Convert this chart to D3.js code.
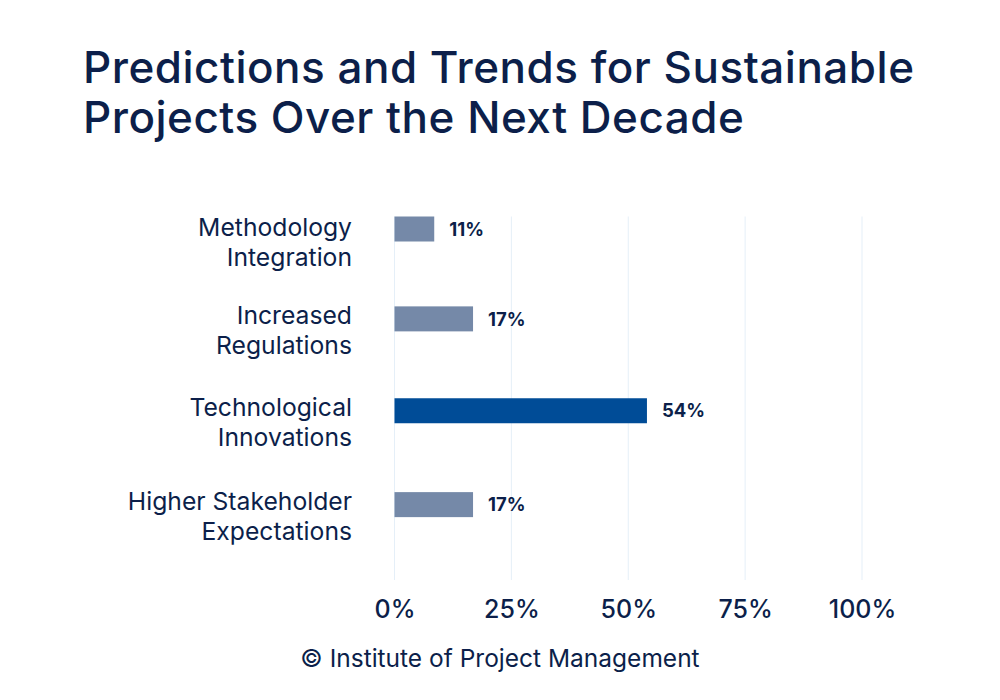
<!DOCTYPE html>
<html>
<head>
<meta charset="utf-8">
<script src="https://cdn.jsdelivr.net/npm/d3@7"></script>
<style>
  body { margin: 0; background: #fff; }
  svg { display: block; font-family: Inter, "Noto Sans", sans-serif; }
</style>
</head>
<body>
<div id="chart"></div>
<script>
// Chart data
const categories = [
    ["Methodology", "Integration"],
    ["Increased", "Regulations"],
    ["Technological", "Innovations"],
    ["Higher Stakeholder", "Expectations"]
];
const values = [8.5, 16.8, 54, 16.8];          // bar lengths as drawn
const valueLabels = ["11%", "17%", "54%", "17%"];
const highlight = [false, false, true, false];
const xTicks = [0, 25, 50, 75, 100];
const titleLines = ["Predictions and Trends for Sustainable", "Projects Over the Next Decade"];
const footer = "\u00A9 Institute of Project Management";

const W = 1000, H = 700;
const navy = "#0c1f4a";

const svg = d3.select("#chart").append("svg")
    .attr("width", W).attr("height", H);

// Title
svg.append("g").selectAll("text")
    .data(titleLines)
    .join("text")
    .attr("x", 83)
    .attr("y", (d, i) => 83 + i * 50)
    .attr("fill", navy)
    .attr("font-size", 44)
    .attr("font-weight", 500)
    .attr("letter-spacing", "0.5")
    .text(d => d);

const x = d3.scaleLinear().domain([0, 100]).range([394.5, 862]);
const y = d3.scaleBand().domain(d3.range(categories.length)).range([216.5, 580]);
const barH = 25;
const nudge = [0, -1, 0, 3];

// gridlines
svg.append("g").selectAll("line")
    .data(xTicks)
    .join("line")
    .attr("x1", d => x(d)).attr("x2", d => x(d))
    .attr("y1", 216.5).attr("y2", 580)
    .attr("stroke", "#e5eff8")
    .attr("stroke-width", 1);

// bars
svg.append("g").selectAll("rect")
    .data(values)
    .join("rect")
    .attr("x", x(0))
    .attr("y", (d, i) => y(i) + nudge[i])
    .attr("width", d => x(d) - x(0))
    .attr("height", barH)
    .attr("fill", (d, i) => highlight[i] ? "#004c97" : "#7589a8");

// value labels
svg.append("g").selectAll("text")
    .data(values)
    .join("text")
    .attr("x", d => x(d) + 15)
    .attr("y", (d, i) => y(i) + barH / 2 + nudge[i])
    .attr("dy", "0.36em")
    .attr("fill", navy)
    .attr("font-size", 18.5)
    .attr("font-weight", 700)
    .text((d, i) => valueLabels[i]);

// category labels
const cat = svg.append("g").selectAll("text")
    .data(categories)
    .join("text")
    .attr("text-anchor", "end")
    .attr("fill", navy)
    .attr("font-size", 24.7)
    .attr("font-weight", 400);
cat.selectAll("tspan")
    .data((d, i) => d.map(t => ({ t, i })))
    .join("tspan")
    .attr("x", 352)
    .attr("y", (d, j) => y(d.i) + barH / 2 + nudge[d.i] + (d.i === 0 ? 7 : 5) + j * 30)
    .text(d => d.t);

// x axis
const xAxis = d3.axisBottom(x)
    .tickValues(xTicks)
    .tickFormat(d => d + "%")
    .tickSize(0)
    .tickPadding(0);
const gx = svg.append("g")
    .attr("transform", "translate(0,600)")
    .call(xAxis);
gx.select(".domain").remove();
gx.selectAll("text")
    .attr("fill", navy)
    .attr("font-size", 25)
    .attr("font-weight", 500)
    .attr("font-family", "Inter, sans-serif");

// footer
svg.append("text")
    .attr("x", 500).attr("y", 667)
    .attr("text-anchor", "middle")
    .attr("fill", navy)
    .attr("font-size", 24.5)
    .text(footer);
</script>
</body>
</html>
